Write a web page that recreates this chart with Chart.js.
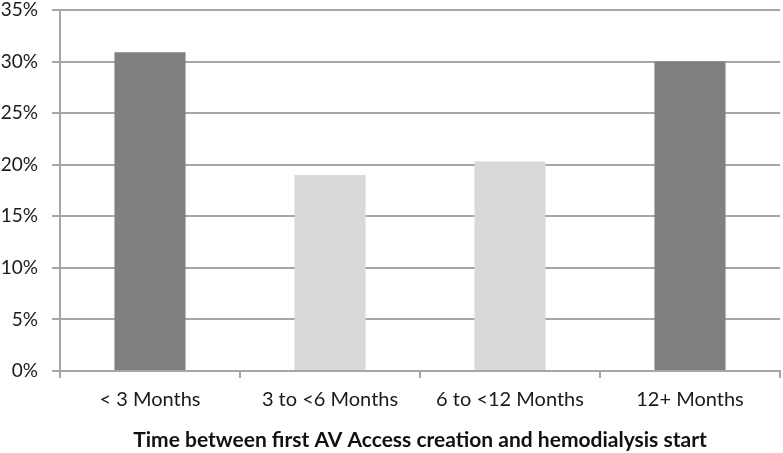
<!DOCTYPE html>
<html>
<head>
<meta charset="utf-8">
<script src="https://cdn.jsdelivr.net/npm/chart.js@4"></script>
<style>
  html, body { margin: 0; padding: 0; background: #fff; }
  #wrap { width: 783px; height: 453px; }
</style>
</head>
<body>
<div id="wrap"><canvas id="avChart" width="783" height="453"></canvas></div>
<script>
// Categories and values (percent)
const categories = ['< 3 Months', '3 to <6 Months', '6 to <12 Months', '12+ Months'];
const shares = [30.9, 19.0, 20.3, 30.0];
const barColors = ['#808080', '#d9d9d9', '#d9d9d9', '#808080'];
const yTicks = [0, 5, 10, 15, 20, 25, 30, 35];

const gridColor = '#a6a6a6';
const fontFamily = 'Lato, "Open Sans", sans-serif';

const ctx = document.getElementById('avChart').getContext('2d');

new Chart(ctx, {
    type: 'bar',
    data: {
        labels: categories,
        datasets: [{
            data: shares,
            backgroundColor: barColors,
            borderWidth: 0,
            categoryPercentage: 1,
            barPercentage: 0.395
        }]
    },
    options: {
        responsive: false,
        animation: false,
        layout: { padding: { top: 10, right: 3, left: 0, bottom: 0 } },
        plugins: {
            legend: { display: false },
            tooltip: { enabled: false }
        },
        scales: {
            x: {
                offset: true,
                grid: {
                    offset: true,
                    drawOnChartArea: false,
                    drawTicks: true,
                    tickLength: 7,
                    color: gridColor,
                    lineWidth: 2
                },
                border: { color: gridColor, width: 2 },
                ticks: {
                    color: '#1a1a1a',
                    font: { family: fontFamily, size: 20 },
                    padding: 10,
                    maxRotation: 0
                },
                title: {
                    display: true,
                    text: 'Time between first AV Access creation and hemodialysis start',
                    color: '#111',
                    font: { family: fontFamily, size: 21, weight: 'bold' },
                    padding: { top: 14, bottom: 0 }
                },
                afterFit(scale) {
                    scale.height = 82;
                    scale.paddingLeft = 0;
                    scale.paddingRight = 0;
                }
            },
            y: {
                min: 0,
                max: 35,
                afterBuildTicks(scale) {
                    scale.ticks = yTicks.map(v => ({ value: v }));
                },
                grid: {
                    color: gridColor,
                    lineWidth: 2,
                    tickLength: 8
                },
                border: { color: gridColor, width: 2 },
                ticks: {
                    color: '#1a1a1a',
                    font: { family: fontFamily, size: 19 },
                    padding: 14,
                    callback: v => v + '%'
                },
                afterFit(scale) {
                    scale.width = 60;
                    scale.paddingTop = 0;
                    scale.paddingBottom = 0;
                }
            }
        }
    }
});
</script>
</body>
</html>
